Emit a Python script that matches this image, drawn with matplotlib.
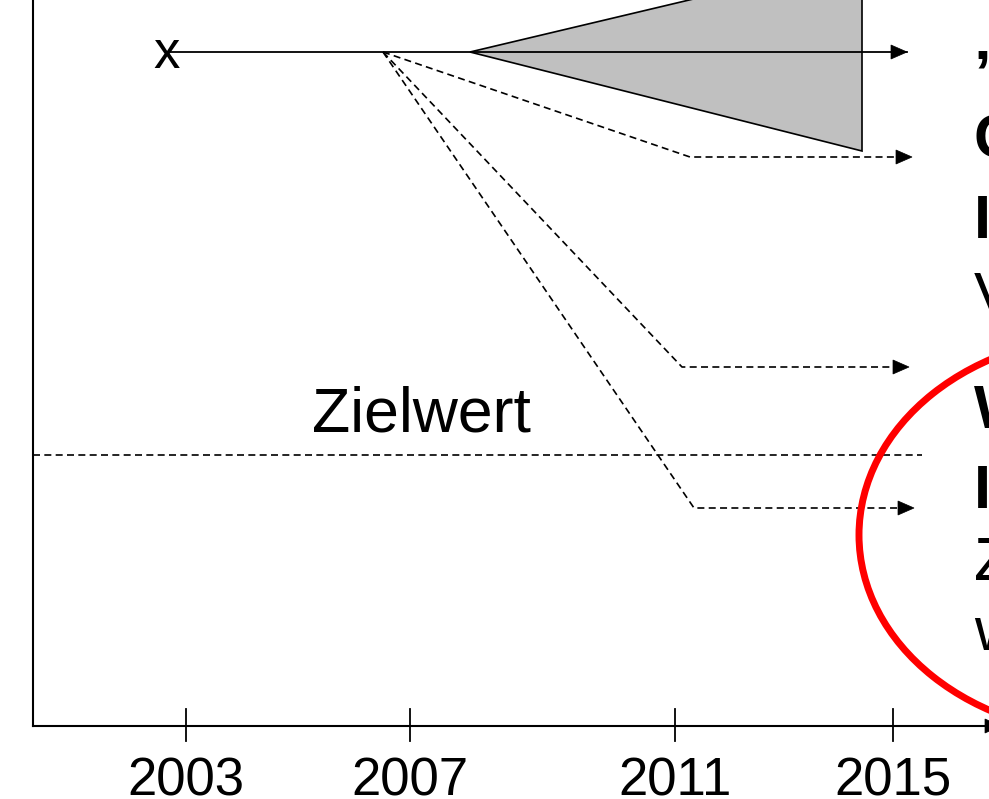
import matplotlib
matplotlib.use('Agg')
import matplotlib.pyplot as plt
from matplotlib.patches import Polygon, Ellipse

plt.rcParams['font.family'] = ['Liberation Sans', 'DejaVu Sans']

# schematic drawn in pixel-like units (y grows downward)
W, H = 989, 799
axis_x0, axis_y0 = 33, 726

years = ['2003', '2007', '2011', '2015']
year_pos = [186, 410, 675, 893]

# "business as usual" line and uncertainty wedge
bau_x = [170, 907]
bau_y = 52
wedge_x = [470, 862, 862]
wedge_y = [52, -41, 151]

# dashed scenario paths (start, bend, arrow tip)
scen_x = [[383, 690, 912], [383, 682, 909], [383, 694, 914]]
scen_y = [[52, 157, 157], [52, 367, 367], [52, 508, 508]]

target_y = 455
target_x = [33, 922]

# labels on the right, mostly cut off by the frame
right_labels = ['\u201eBusiness as usual\u201c', 'CO\u2082-Abgabe', 'Instrumentenmix',
                'Verfehlung des Ziels', 'Wirksame', 'Instrumente',
                'Zielwert', 'wird erreicht']
right_bold = [True, True, True, False, True, True, False, False]
right_base = [59, 157, 237, 315, 428, 507, 580, 650]


def head(ax, tip, y, length=16, half=7):
    ax.add_patch(Polygon([(tip - length, y - half), (tip, y), (tip - length, y + half)],
                         closed=True, facecolor='black', edgecolor='black', lw=0.5, zorder=5))


fig = plt.figure(figsize=(W / 100, H / 100), dpi=100)
ax = fig.add_axes([0, 0, 1, 1])
ax.set_xlim(0, W)
ax.set_ylim(H, 0)
ax.axis('off')

dash = (0, (4.2, 2.6))

# axes of the diagram
ax.plot([axis_x0, axis_x0], [-20, axis_y0], color='black', lw=1.5)
ax.plot([axis_x0, 985], [axis_y0, axis_y0], color='black', lw=1.5)
head(ax, 1001, axis_y0)
for p, lab in zip(year_pos, years):
    ax.plot([p, p], [709, 741], color='black', lw=1.3)
    ax.text(p, 796, lab, fontsize=38, ha='center', va='baseline')

# wedge
ax.add_patch(Polygon(list(zip(wedge_x, wedge_y)), closed=True, facecolor='#c0c0c0',
                     edgecolor='black', lw=1.2, zorder=2))

# x marker + solid line
ax.text(167, 68, 'x', fontsize=38, ha='center', va='baseline')
ax.plot(bau_x, [bau_y, bau_y], color='black', lw=1.3, zorder=3)
head(ax, bau_x[1], bau_y)

# dashed scenarios
for xs, ys in zip(scen_x, scen_y):
    ax.plot(xs[:-1] + [xs[-1] - 14], ys, color='black', lw=1.2, ls=dash, zorder=3)
    head(ax, xs[-1], ys[-1])

# target line
ax.plot(target_x, [target_y, target_y], color='black', lw=1.2, ls=dash)
ax.text(421, 432, 'Zielwert', fontsize=45, ha='center', va='baseline')

# red ellipse
ax.add_patch(Ellipse((1111, 535), 504, 400, facecolor='none', edgecolor='#ff0000',
                     lw=5, zorder=6))

for lab, b, y in zip(right_labels, right_bold, right_base):
    ax.text(974, y, lab, fontsize=44, fontweight='bold' if b else 'normal',
            ha='left', va='baseline', zorder=7)

plt.savefig('out.png', dpi=100)
